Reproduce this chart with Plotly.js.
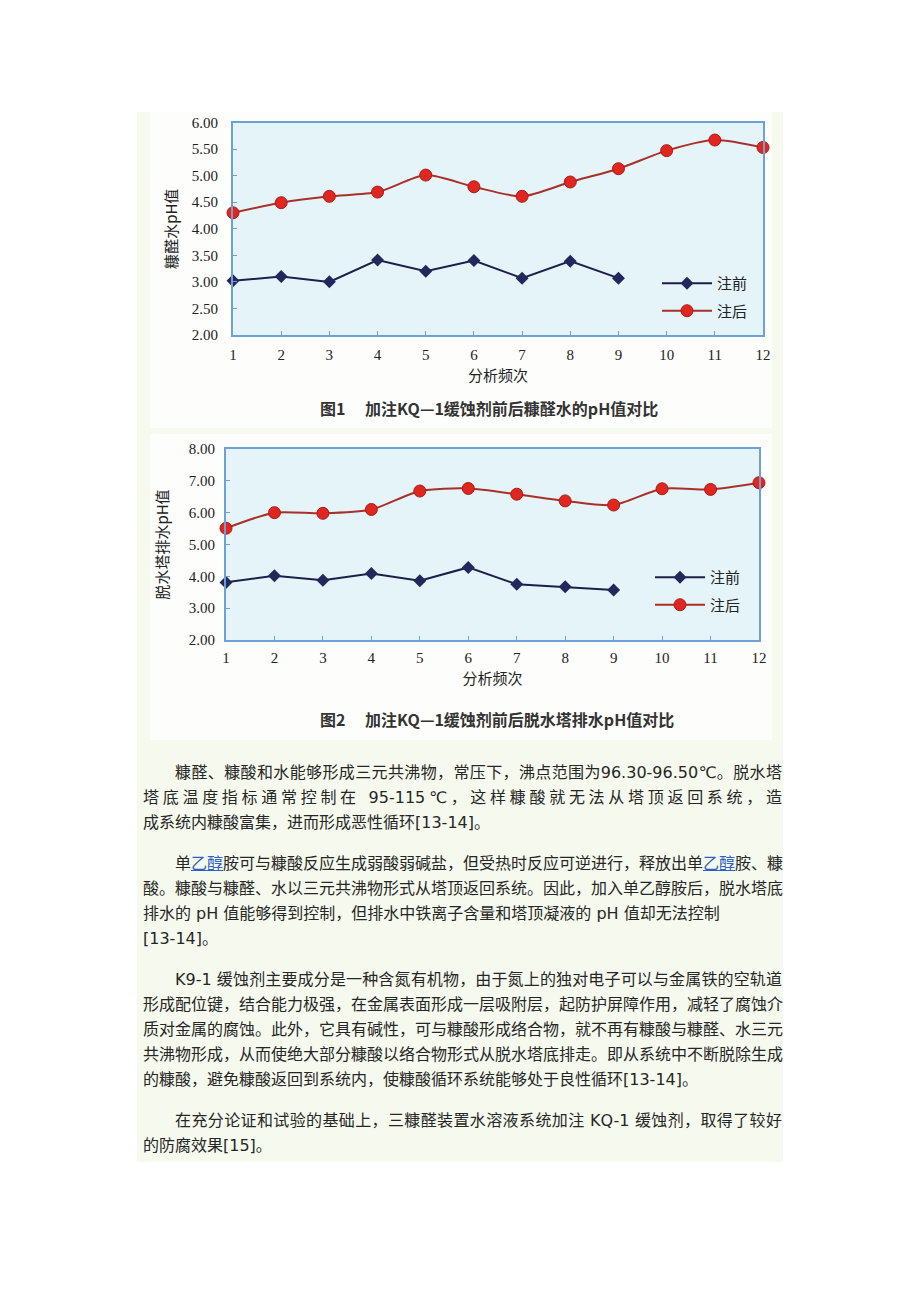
<!DOCTYPE html>
<html>
<head>
<meta charset="utf-8">
<script src="https://cdn.plot.ly/plotly-3.0.1.min.js"></script>
<style>
  html, body { margin: 0; padding: 0; background: #ffffff; }
  #page { position: relative; width: 920px; height: 1302px; overflow: hidden; }
  #block { position: absolute; left: 137px; top: 112px; width: 646px; height: 1050px; background: #f6faee; }
  .img { position: absolute; left: 150px; width: 622px; background: #fdfefc; }
  #chart { position: absolute; left: 0; top: 0; width: 920px; height: 1302px; }
  #text { position: absolute; left: 143px; top: 760px; width: 639px;
          font-family: "DejaVu Sans", "Noto Sans CJK SC", sans-serif; font-size: 16px;
          line-height: 25px; color: #262626; }
  #text .para { margin: 0 0 16px 0; }
  #text .ln { white-space: nowrap; text-align: justify; text-align-last: justify; }
  #text .last { white-space: nowrap; text-align: left; text-align-last: left; }
  #text .ind { text-indent: 2em; }
  #text a { color: #2d5fc4; text-decoration: underline; }
</style>
</head>
<body>
<div id="page">
  <div id="block"></div>
  <div class="img" style="top:112px;height:316px;"></div>
  <div class="img" style="top:434px;height:306px;"></div>
  <div id="chart"></div>
  <div id="text">
    <div class="para">
      <div class="ln ind">糠醛、糠酸和水能够形成三元共沸物，常压下，沸点范围为96.30-96.50℃。脱水塔</div>
      <div class="ln">塔底温度指标通常控制在 95-115℃，这样糠酸就无法从塔顶返回系统，造</div>
      <div class="last">成系统内糠酸富集，进而形成恶性循环[13-14]。</div>
    </div>
    <div class="para">
      <div class="ln ind">单<a>乙醇</a>胺可与糠酸反应生成弱酸弱碱盐，但受热时反应可逆进行，释放出单<a>乙醇</a>胺、糠</div>
      <div class="ln">酸。糠酸与糠醛、水以三元共沸物形式从塔顶返回系统。因此，加入单乙醇胺后，脱水塔底</div>
      <div class="last">排水的 pH 值能够得到控制，但排水中铁离子含量和塔顶凝液的 pH 值却无法控制</div>
      <div class="last">[13-14]。</div>
    </div>
    <div class="para">
      <div class="ln ind">K9-1 缓蚀剂主要成分是一种含氮有机物，由于氮上的独对电子可以与金属铁的空轨道</div>
      <div class="ln">形成配位键，结合能力极强，在金属表面形成一层吸附层，起防护屏障作用，减轻了腐蚀介</div>
      <div class="ln">质对金属的腐蚀。此外，它具有碱性，可与糠酸形成络合物，就不再有糠酸与糠醛、水三元</div>
      <div class="ln">共沸物形成，从而使绝大部分糠酸以络合物形式从脱水塔底排走。即从系统中不断脱除生成</div>
      <div class="last">的糠酸，避免糠酸返回到系统内，使糠酸循环系统能够处于良性循环[13-14]。</div>
    </div>
    <div class="para">
      <div class="ln ind">在充分论证和试验的基础上，三糠醛装置水溶液系统加注 KQ-1 缓蚀剂，取得了较好</div>
      <div class="last">的防腐效果[15]。</div>
    </div>
  </div>
</div>
<script>
// ---- data ----
var analysisRuns = [1, 2, 3, 4, 5, 6, 7, 8, 9, 10, 11, 12];
var seriesNames = ["注前", "注后"];
// Figure 1: 糠醛水 pH
var fig1Before = [3.02, 3.10, 3.00, 3.41, 3.20, 3.40, 3.07, 3.39, 3.07];
var fig1After  = [4.30, 4.49, 4.61, 4.69, 5.01, 4.79, 4.61, 4.88, 5.13, 5.47, 5.67, 5.53];
// Figure 2: 脱水塔排水 pH
var fig2Before = [3.81, 4.02, 3.88, 4.09, 3.86, 4.28, 3.75, 3.67, 3.57];
var fig2After  = [5.51, 6.00, 5.98, 6.10, 6.68, 6.76, 6.58, 6.37, 6.24, 6.75, 6.73, 6.94];
var xTitle = "分析频次";
var y1Title = "糠醛水pH值";
var y2Title = "脱水塔排水pH值";
var caption1 = "图1\u3000 加注KQ—1缓蚀剂前后糠醛水的pH值对比";
var caption2 = "图2\u3000 加注KQ—1缓蚀剂前后脱水塔排水pH值对比";

// ---- styling ----
var W = 920, H = 1302;
function px(x) { return x / W; }
function py(y) { return 1 - y / H; }
var CJK = "Noto Sans CJK SC";
var SERIF = "Liberation Serif";
var borderColor = "#6e9fd6";
var beforeLine = "#1c1f4a", beforeMarker = "#23285c";
var afterLine = "#a8302b", afterMarker = "#e0261f", afterMarkerEdge = "#a81c18";

function beforeTrace(y, xa, ya, lg) {
  return {
    x: analysisRuns.slice(0, y.length), y: y, xaxis: xa, yaxis: ya,
    name: seriesNames[0], legend: lg, legendgroup: lg + "b",
    mode: "lines+markers", cliponaxis: false,
    line: { color: beforeLine, width: 2 },
    marker: { symbol: "diamond", size: 10, color: beforeMarker }
  };
}
function afterTrace(y, xa, ya, lg) {
  return {
    x: analysisRuns.slice(0, y.length), y: y, xaxis: xa, yaxis: ya,
    name: seriesNames[1], legend: lg, legendgroup: lg + "a",
    mode: "lines+markers", cliponaxis: false,
    line: { color: afterLine, width: 2, shape: "spline", smoothing: 0.7 },
    marker: { symbol: "circle", size: 12, color: afterMarker, line: { color: afterMarkerEdge, width: 1 } }
  };
}

function xAxis(domain, anchor, lblOff, titleOff) {
  return {
    domain: domain, anchor: anchor, range: [1, 12],
    tickmode: "array", tickvals: analysisRuns, ticktext: analysisRuns.map(String),
    ticks: "inside", ticklen: 4, tickcolor: borderColor, tickwidth: 1,
    showline: true, mirror: true, linecolor: borderColor, linewidth: 2,
    showgrid: false, zeroline: false, ticklabelstandoff: lblOff,
    tickfont: { family: SERIF, size: 15, color: "#222" },
    title: { text: xTitle, font: { family: CJK, size: 15, color: "#222" }, standoff: titleOff }
  };
}
function yAxis(domain, anchor, range, dtick, title, standoff, lblOff) {
  return {
    domain: domain, anchor: anchor, range: range, dtick: dtick, tick0: range[0],
    tickformat: ".2f",
    ticks: "inside", ticklen: 4, tickcolor: borderColor, tickwidth: 1,
    showline: true, mirror: true, linecolor: borderColor, linewidth: 2,
    showgrid: false, zeroline: false, ticklabelstandoff: lblOff,
    tickfont: { family: SERIF, size: 15, color: "#222" },
    title: { text: title, font: { family: CJK, size: 15, color: "#222" }, standoff: standoff }
  };
}

var data = [
  beforeTrace(fig1Before, "x", "y", "legend"),
  afterTrace(fig1After, "x", "y", "legend"),
  beforeTrace(fig2Before, "x2", "y2", "legend2"),
  afterTrace(fig2After, "x2", "y2", "legend2")
];

var legendStyle = {
  xanchor: "left", yanchor: "top", bgcolor: "rgba(0,0,0,0)", borderwidth: 0,
  font: { family: CJK, size: 15, color: "#222" }, itemwidth: 50, tracegroupgap: 5,
  orientation: "v"
};

var layout = {
  width: W, height: H,
  margin: { l: 0, r: 0, t: 0, b: 0, pad: 0 },
  paper_bgcolor: "rgba(0,0,0,0)",
  plot_bgcolor: "#e4f4f9",
  showlegend: true,
  xaxis: xAxis([px(233), px(763)], "y", 5, 8),
  yaxis: yAxis([py(335), py(122.5)], "x", [2, 6], 0.5, y1Title, 11, 10),
  xaxis2: xAxis([px(226), px(759)], "y2", 3, 8),
  yaxis2: yAxis([py(640), py(449)], "x2", [2, 8], 1, y2Title, 17, 6),
  legend: Object.assign({}, legendStyle, { x: px(657), y: py(267) }),
  legend2: Object.assign({}, legendStyle, { x: px(650), y: py(561) }),
  annotations: [
    { text: caption1, xref: "paper", yref: "paper", x: px(318), y: py(408),
      xanchor: "left", yanchor: "middle", showarrow: false,
      font: { family: CJK, size: 16, color: "#333", weight: "bold" } },
    { text: caption2, xref: "paper", yref: "paper", x: px(318), y: py(719),
      xanchor: "left", yanchor: "middle", showarrow: false,
      font: { family: CJK, size: 16, color: "#333", weight: "bold" } }
  ]
};

Plotly.newPlot("chart", data, layout, { displayModeBar: false, staticPlot: true });
</script>
</body>
</html>
